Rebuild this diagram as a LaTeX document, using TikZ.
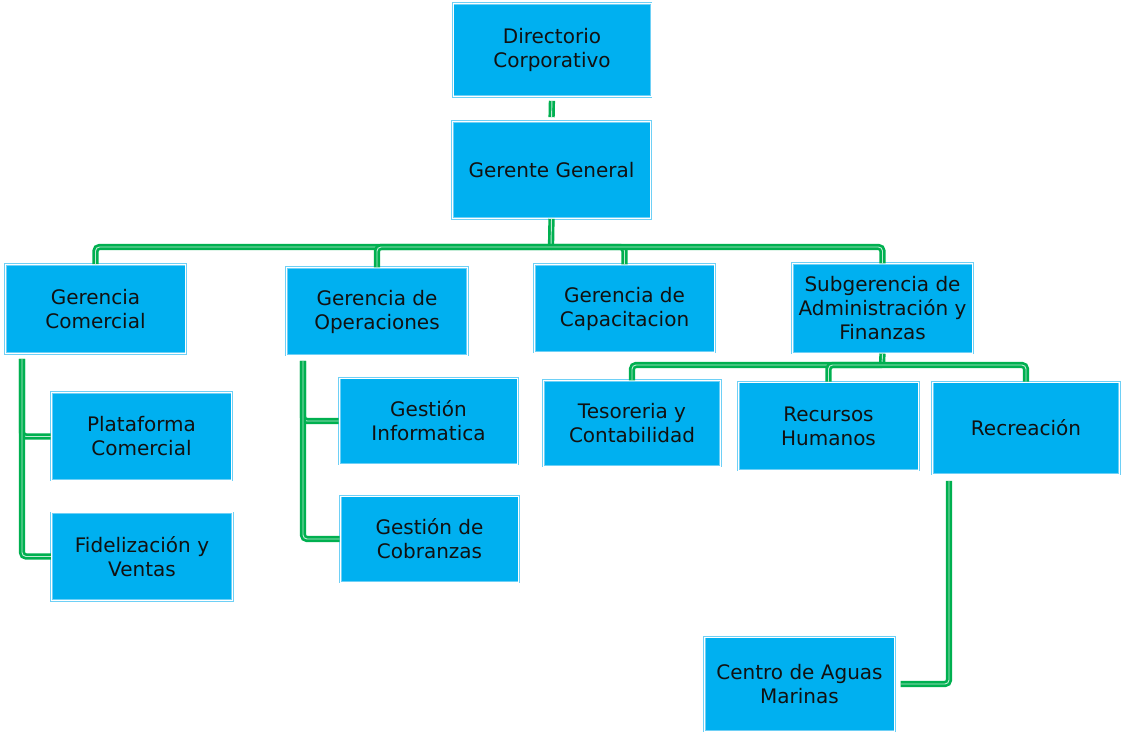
\documentclass[tikz,border=0pt]{standalone}
\usepackage{fontspec}
\setmainfont{DejaVu Sans}
\usepackage{xcolor}
\usepackage{tikz}
\usetikzlibrary{positioning, calc}
\definecolor{cyanfill}{RGB}{0,176,240}
\definecolor{cyanedge}{RGB}{110,208,246}
\definecolor{leafgreen}{RGB}{0,176,80}
\definecolor{inktext}{RGB}{17,17,17}

\begin{document}
\begin{tikzpicture}[
  x=0.75pt, y=-0.75pt,
  unit/.style={rectangle, fill=cyanfill, draw=cyanedge, double=white,
               line width=0.7pt, double distance=0.6pt, align=center,
               inner sep=2pt, text=inktext,
               font=\fontsize{15}{18}\selectfont},
  con/.style={draw=leafgreen, double=leafgreen!25!white, line width=2pt,
              double distance=0.7pt, rounded corners=3pt}]
  \useasboundingbox (0,0) rectangle (1122,734);
  % top of the chart
  \node[unit, minimum width=148.5pt, minimum height=69.5pt] (dir) at (552,50) {Directorio\\Corporativo};
  \node[unit, minimum width=149pt, minimum height=72.5pt] (gg) at (551.5,170) {Gerente General};
  % first level
  \node[unit, minimum width=135.5pt, minimum height=66.5pt] (gc) at (95.5,309) {Gerencia\\Comercial};
  \node[unit, minimum width=136pt, minimum height=65.5pt] (gop) at (377,311.5) {Gerencia de\\Operaciones};
  \node[unit, minimum width=135.5pt, minimum height=65.5pt] (gcap) at (624.5,308.5) {Gerencia de\\Capacitacion};
  \node[unit, minimum width=135.5pt, minimum height=67pt] (sub) at (882.5,308.5) {Subgerencia de\\Administración y\\Finanzas};
  % second level
  \node[unit, minimum width=135.5pt, minimum height=65.5pt] (plat) at (141.5,436.5) {Plataforma\\Comercial};
  \node[unit, minimum width=136pt, minimum height=65.5pt] (fid) at (142,556.5) {Fidelización y\\Ventas};
  \node[unit, minimum width=134pt, minimum height=64.5pt] (ginf) at (428.5,421) {Gestión\\Informatica};
  \node[unit, minimum width=134pt, minimum height=64.5pt] (gcob) at (429.5,539) {Gestión de\\Cobranzas};
  \node[unit, minimum width=133pt, minimum height=64pt] (tes) at (632,423.5) {Tesoreria y\\Contabilidad};
  \node[unit, minimum width=135.5pt, minimum height=66pt] (rrhh) at (828.5,426) {Recursos\\Humanos};
  \node[unit, minimum width=140.5pt, minimum height=69pt] (rec) at (1026,428) {Recreación};
  \node[unit, minimum width=143pt, minimum height=70.5pt] (cam) at (799.5,684) {Centro de Aguas\\Marinas};
  % bars
  \coordinate (bar) at (551,247);
  \coordinate (bar2) at (882,365);
  \coordinate (gcx) at (22,359);
  \coordinate (gopx) at (303,361);
  \coordinate (recx) at (949,481);
  % connectors
  \draw[con, shorten <=3pt, shorten >=3pt] (dir.south) -- (gg.north);
  \draw[con] (gg.south) -- (bar);
  \draw[con] (gc.north) |- (bar);
  \draw[con] (gop.north) |- (bar);
  \draw[con] (gcap.north) |- (bar);
  \draw[con] (sub.north) |- (bar);
  \draw[con] (gcx) |- (plat.west);
  \draw[con] (gcx) |- (fid.west);
  \draw[con] (gopx) |- (ginf.west);
  \draw[con] (gopx) |- (gcob.west);
  \draw[con] (sub.south) -- (bar2);
  \draw[con] (tes.north) |- (bar2);
  \draw[con] (rrhh.north) |- (bar2);
  \draw[con] (rec.north) |- (bar2);
  \draw[con] (recx) |- ([xshift=4pt]cam.east);
\end{tikzpicture}
\end{document}
